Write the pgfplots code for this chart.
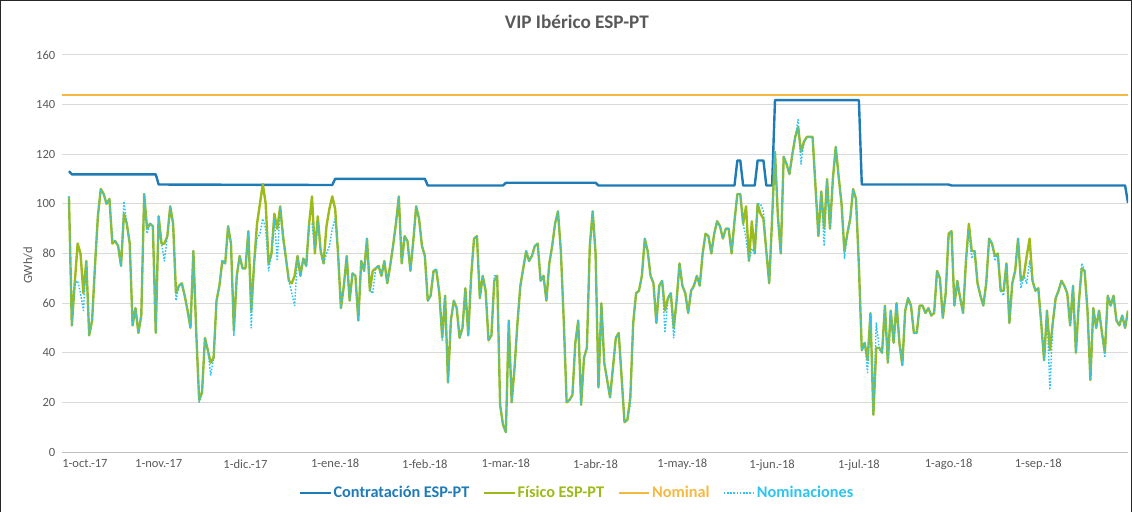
\documentclass[border=0pt]{standalone}
\usepackage{fontspec}
\setmainfont{Carlito}
\usepackage{pgfplots}
\pgfplotsset{compat=1.18}
\usepackage{pgfplotstable}

\definecolor{cContr}{HTML}{1F7BB6}
\definecolor{cFis}{HTML}{9CBA1A}
\definecolor{cNom}{HTML}{F5B942}
\definecolor{cNoms}{HTML}{2EC4EE}
\definecolor{cTxt}{HTML}{595959}
\definecolor{cGrid}{HTML}{D9D9D9}

% day (0 = 1-oct-17), fisico, nominaciones
\pgfplotstableread{
d fis nom
0 103 103
1 51 51
2 68 68
3 84 69
4 80 64
5 64 57
6 77 77
7 47 47
8 53 53
9 75 75
10 95 95
11 106 106
12 104 104
13 100 100
14 102 102
15 84 86
16 85 85
17 83 83
18 75 75
19 96 101
20 92 92
21 84 84
22 51 51
23 58 58
24 48 48
25 55 55
26 104 104
27 90 88
28 92 92
29 91 91
30 48 48
31 95 95
32 84 84
33 84 77
34 87 87
35 99 99
36 92 92
37 64 61
38 67 67
39 68 68
40 63 63
41 57 57
42 50 50
43 81 81
44 48 48
45 21 20
46 24 24
47 46 46
48 41 41
49 36 31
50 38 38
51 61 61
52 67 67
53 77 77
54 76 76
55 91 91
56 84 84
57 49 47
58 71 71
59 79 79
60 74 74
61 74 74
62 89 89
63 57 50
64 76 76
65 92 86
66 100 88
67 108 94
68 100 90
69 76 73
70 80 80
71 96 94
72 90 77
73 99 99
74 87 85
75 78 78
76 69 69
77 68 64
78 71 59
79 79 79
80 71 71
81 78 78
82 75 75
83 92 92
84 103 92
85 80 82
86 95 93
87 81 81
88 76 76
89 91 80
90 98 83
91 103 90
92 98 94
93 80 80
94 58 58
95 67 67
96 79 79
97 61 61
98 72 72
99 71 71
100 53 53
101 77 77
102 73 73
103 86 86
104 65 65
105 73 64
106 74 74
107 75 75
108 71 71
109 77 77
110 68 68
111 75 75
112 83 83
113 92 92
114 103 103
115 76 76
116 87 87
117 85 85
118 73 73
119 85 85
120 99 99
121 94 94
122 83 83
123 79 79
124 61 61
125 63 63
126 73 73
127 73 74
128 64 64
129 46 45
130 63 63
131 28 28
132 53 53
133 61 61
134 58 58
135 46 46
136 50 50
137 66 66
138 47 47
139 71 71
140 86 86
141 87 87
142 62 62
143 71 71
144 65 65
145 45 45
146 47 47
147 69 71
148 71 71
149 19 19
150 11 11
151 8 8
152 53 53
153 20 20
154 34 34
155 52 52
156 67 67
157 74 74
158 81 81
159 77 77
160 79 79
161 83 83
162 84 84
163 69 69
164 71 71
165 61 61
166 76 76
167 83 83
168 92 92
169 97 97
170 81 81
171 53 53
172 20 20
173 21 21
174 23 23
175 44 44
176 53 53
177 19 19
178 38 38
179 42 42
180 83 83
181 97 97
182 80 80
183 26 26
184 60 60
185 36 36
186 29 29
187 22 22
188 34 34
189 46 46
190 48 48
191 30 30
192 12 12
193 13 13
194 22 19
195 52 52
196 64 64
197 65 65
198 71 71
199 86 86
200 81 81
201 71 71
202 68 68
203 52 52
204 67 67
205 69 69
206 57 48
207 62 62
208 64 64
209 50 46
210 61 61
211 76 76
212 67 67
213 64 64
214 56 56
215 65 65
216 67 67
217 71 71
218 67 67
219 80 80
220 88 88
221 87 87
222 80 80
223 88 88
224 93 93
225 91 91
226 86 86
227 90 90
228 90 90
229 80 80
230 93 93
231 104 104
232 104 104
233 92 92
234 99 86
235 77 77
236 93 82
237 80 80
238 100 100
239 96 100
240 94 97
241 81 81
242 68 68
243 94 94
244 121 121
245 95 95
246 80 80
247 119 119
248 116 116
249 112 112
250 120 120
251 127 127
252 131 134
253 121 116
254 125 125
255 127 127
256 127 127
257 127 127
258 107 107
259 87 87
260 105 105
261 90 83
262 110 110
263 90 90
264 110 110
265 123 123
266 111 111
267 100 100
268 81 78
269 88 88
270 94 94
271 106 106
272 102 102
273 75 75
274 41 41
275 44 44
276 37 32
277 56 56
278 15 15
279 42 52
280 42 42
281 40 40
282 59 59
283 36 36
284 57 57
285 44 44
286 60 60
287 44 44
288 35 35
289 57 57
290 62 62
291 59 59
292 48 48
293 48 48
294 59 59
295 59 59
296 56 56
297 58 58
298 55 55
299 56 56
300 73 73
301 70 70
302 54 54
303 64 64
304 88 86
305 89 89
306 59 59
307 69 69
308 62 62
309 56 56
310 77 77
311 92 89
312 81 78
313 81 81
314 68 68
315 63 63
316 59 59
317 68 68
318 86 86
319 84 84
320 79 77
321 80 80
322 65 65
323 65 63
324 76 76
325 52 52
326 68 68
327 73 73
328 86 86
329 69 66
330 71 71
331 79 68
332 86 77
333 69 69
334 65 65
335 66 66
336 52 52
337 37 37
338 57 57
339 41 25
340 52 52
341 62 62
342 65 65
343 69 69
344 67 67
345 64 64
346 51 51
347 67 67
348 40 40
349 60 60
350 74 76
351 73 73
352 57 57
353 29 29
354 58 58
355 50 50
356 57 57
357 48 48
358 40 38
359 63 63
360 59 59
361 63 63
362 53 53
363 51 51
364 55 55
365 50 50
366 57 57
}\daily

% contratacion: only the points where the level changes
\pgfplotstableread{
d v
0 113.2
1 111.9
30 111.9
31 107.8
91 107.6
92 110.1
123 110.1
124 107.4
150 107.4
151 108.5
182 108.5
183 107.4
230 107.4
231 117.5
232 117.5
233 107.4
237 107.4
238 117.5
240 117.5
241 107.4
243 107.4
244 141.8
273 141.8
274 107.8
304 107.8
305 107.4
365 107.4
366 100.4
}\contr

\begin{document}
\begin{tikzpicture}
\path[use as bounding box] (-46.5pt,-44.25pt) rectangle (802.5pt,339pt);
\draw[line width=0.8pt, black!85] (-46pt,-60pt) -- (-46pt,338.4pt) -- (801.9pt,338.4pt) -- (801.9pt,-60pt);
\begin{axis}[
  scale only axis, width=799.5pt, height=297.75pt,
  xmin=-2.4, xmax=366, ymin=0, ymax=160,
  axis x line*=bottom, axis y line*=left,
  x axis line style={draw=black!25, -},
  y axis line style={draw=none},
  major tick length=0pt,
  ytick={0,20,...,160},
  xtick={0,31,61,92,123,151,182,212,243,273,304,335},
  xticklabels={\makebox[0pt][l]{\hspace*{-5pt}1-oct.-17},1-nov.-17,1-dic.-17,1-ene.-18,1-feb.-18,1-mar.-18,1-abr.-18,1-may.-18,1-jun.-18,1-jul.-18,1-ago.-18,1-sep.-18},
  /pgf/number format/assume math mode=true,
  ticklabel style={font=\fontsize{9.4}{11}\selectfont, text=cTxt},
  xticklabel style={anchor=north, yshift=-2pt},
  yticklabel style={anchor=east, xshift=-1.5pt},
  ymajorgrids, major grid style={cGrid, line width=0.75pt},
  ylabel={GWh/d},
  ylabel style={at={(axis description cs:0,0.47)}, yshift=25.5pt, anchor=center, font=\fontsize{9.4}{11}\selectfont, text=cTxt},
  title={VIP Ibérico ESP-PT},
  title style={at={(axis description cs:0.483,1)}, anchor=center, yshift=18.75pt, font=\bfseries\fontsize{14.4}{17}\selectfont, text=cTxt},
  legend columns=4,
  legend style={at={(0.483,-0.103)}, anchor=center, draw=none, fill=none,
    font=\bfseries\fontsize{12.2}{14}\selectfont,
    /tikz/every even column/.append style={column sep=9pt},
    nodes={inner xsep=1.2pt}},
  legend image code/.code={\draw[#1] (0pt,0pt) -- (23pt,0pt);},
  line join=round,
]
\addplot[cContr, line width=1.8pt] table[x=d, y=v] {\contr};
\addlegendentry{\textcolor{cContr}{Contratación ESP-PT}}
\addplot[cFis, line width=1.8pt] table[x=d, y=fis] {\daily};
\addlegendentry{\textcolor{cFis}{Físico ESP-PT}}
\addplot[cNom, line width=1.6pt] coordinates {(-2.4,144) (366,144)};
\addlegendentry{\textcolor{cNom}{Nominal}}
\addplot[cNoms, line width=1.1pt, dash pattern=on 1.2pt off 1.2pt] table[x=d, y=nom] {\daily};
\addlegendentry{\textcolor{cNoms}{Nominaciones}}
\end{axis}
\end{tikzpicture}
\end{document}
